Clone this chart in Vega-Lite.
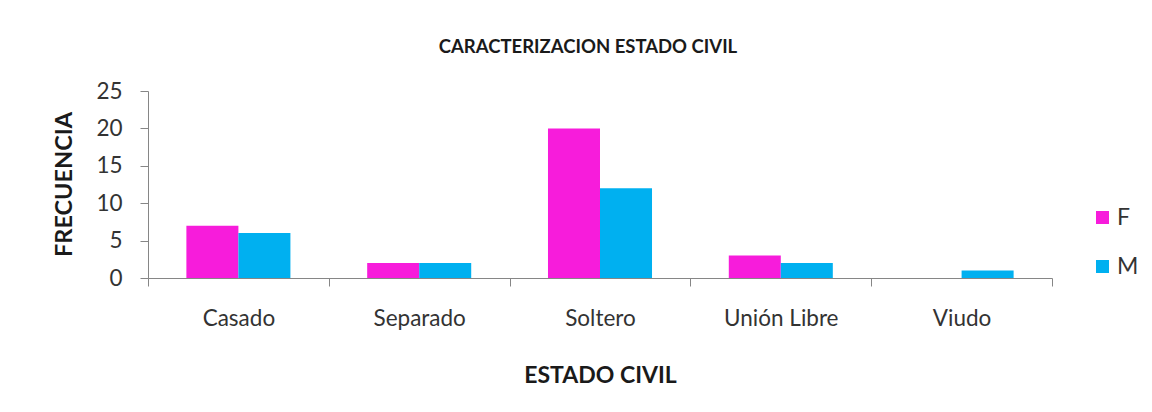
{
  "$schema": "https://vega.github.io/schema/vega-lite/v6.json",
  "autosize": {"type": "none"},
  "padding": {"left": 148, "top": 91, "right": 100, "bottom": 134},
  "width": 904,
  "height": 187,
  "background": "white",
  "title": {
    "text": "CARACTERIZACION ESTADO CIVIL",
    "anchor": "middle",
    "dx": -12,
    "font": "Lato",
    "fontSize": 18.5,
    "fontWeight": "bold",
    "color": "#1a1a1a",
    "offset": 24
  },
  "data": {
    "values": [
      {"estado": "Casado", "sexo": "F", "frecuencia": 7},
      {"estado": "Casado", "sexo": "M", "frecuencia": 6},
      {"estado": "Separado", "sexo": "F", "frecuencia": 2},
      {"estado": "Separado", "sexo": "M", "frecuencia": 2},
      {"estado": "Soltero", "sexo": "F", "frecuencia": 20},
      {"estado": "Soltero", "sexo": "M", "frecuencia": 12},
      {"estado": "Unión Libre", "sexo": "F", "frecuencia": 3},
      {"estado": "Unión Libre", "sexo": "M", "frecuencia": 2},
      {"estado": "Viudo", "sexo": "F", "frecuencia": 0},
      {"estado": "Viudo", "sexo": "M", "frecuencia": 1}
    ]
  },
  "mark": {"type": "bar"},
  "encoding": {
    "x": {
      "field": "estado",
      "type": "nominal",
      "sort": ["Casado", "Separado", "Soltero", "Unión Libre", "Viudo"],
      "scale": {"paddingInner": 0, "paddingOuter": 0},
      "axis": {
        "title": "ESTADO CIVIL",
        "titleFont": "Lato",
        "titleFontSize": 23,
        "titleFontWeight": "bold",
        "titleColor": "#1a1a1a",
        "titleX": 452,
        "titleY": 104,
        "titleBaseline": "alphabetic",
        "labelAngle": 0,
        "labelFont": "Lato",
        "labelFontSize": 22.5,
        "labelColor": "#333333",
        "labelPadding": 21,
        "tickBand": "extent",
        "tickSize": 8,
        "tickColor": "#868686",
        "domainColor": "#868686",
        "grid": false
      }
    },
    "xOffset": {
      "field": "sexo",
      "type": "nominal",
      "scale": {"paddingInner": 0, "paddingOuter": 0.738}
    },
    "y": {
      "field": "frecuencia",
      "type": "quantitative",
      "scale": {"domain": [0, 25]},
      "axis": {
        "title": "FRECUENCIA",
        "titleFont": "Lato",
        "titleFontSize": 23.5,
        "titleFontWeight": "bold",
        "titleColor": "#1a1a1a",
        "titleAngle": -90,
        "titleX": -77,
        "titleY": 93,
        "titleBaseline": "alphabetic",
        "values": [0, 5, 10, 15, 20, 25],
        "labelFont": "Lato",
        "labelFontSize": 22.5,
        "labelColor": "#333333",
        "labelPadding": 18,
        "tickSize": 8,
        "tickColor": "#868686",
        "domainColor": "#868686",
        "grid": false
      }
    },
    "color": {
      "field": "sexo",
      "type": "nominal",
      "scale": {"domain": ["F", "M"], "range": ["#F71CDB", "#00B0F0"]},
      "legend": {
        "title": null,
        "orient": "none",
        "legendX": 943,
        "legendY": 115,
        "symbolType": "square",
        "symbolSize": 169,
        "symbolStrokeWidth": 0,
        "labelFont": "Lato",
        "labelFontSize": 23,
        "labelColor": "#333333",
        "rowPadding": 25,
        "labelOffset": 3
      }
    }
  },
  "config": {"view": {"stroke": null}}
}
